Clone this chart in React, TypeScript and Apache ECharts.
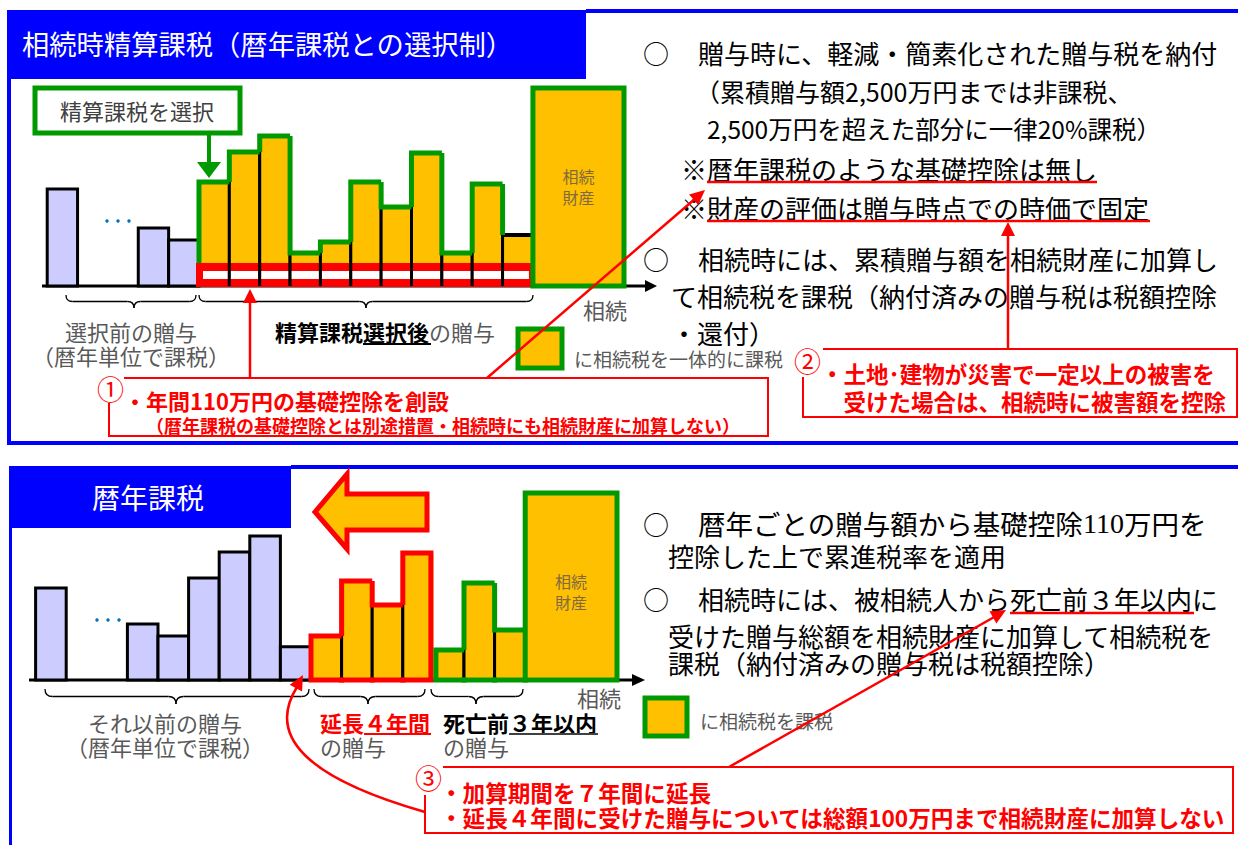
import React, { useEffect, useRef } from 'react';
import * as echarts from 'echarts';

const FONT = '"Noto Sans CJK JP", "Noto Sans", sans-serif';
const SERIF = '"Liberation Serif", "DejaVu Serif", serif';
const ORANGE = '#FFC000';
const LAVENDER = '#CCCCFF';
const GREEN = '#009900';
const RED = '#FF0000';
const BLUE = '#0000FF';
const GRAY = '#595959';

// ---------- top panel (相続時精算課税) ----------
const topCategories = ['B1', 'gap1', 'gap2', 'B2', 'B3', 'A1', 'A2', 'A3', 'A4', 'A5', 'A6', 'A7', 'A8', 'A9', 'A10', 'A11', 'E1', 'E2', 'E3'];
const topBeforeCats = ['B1', 'B2', 'B3'];
const topBeforeValues = [48.5, 29, 23];
const topAfterCats = ['A1', 'A2', 'A3', 'A4', 'A5', 'A6', 'A7', 'A8', 'A9', 'A10', 'A11'];
const topAfterValues = [52, 67, 75, 16.5, 22, 52, 39.5, 66.5, 16.5, 51, 25.5];
const topEstateCats = ['E1', 'E3'];
const topEstateValue = 99;

// ---------- bottom panel (暦年課税) ----------
const bottomCategories = ['C1', 'gap1', 'gap2', 'C2', 'C3', 'C4', 'C5', 'C6', 'C7', 'X1', 'X2', 'X3', 'X4', 'D1', 'D2', 'D3', 'E1', 'E2', 'E3'];
const bottomBeforeCats = ['C1', 'C2', 'C3', 'C4', 'C5', 'C6', 'C7'];
const bottomBeforeValues = [46, 28, 22, 51, 64, 72, 16.6];
const bottomExtCats = ['X1', 'X2', 'X3', 'X4'];
const bottomExtValues = [22, 49.5, 37.5, 63.5];
const bottomLast3Cats = ['D1', 'D2', 'D3'];
const bottomLast3Values = [15, 48.5, 25];
const bottomEstateCats = ['E1', 'E3'];
const bottomEstateValue = 93.5;

const toData = (cats: string[], all: string[], values: number[]) =>
  cats.map((c, i) => [all.indexOf(c), values[i]]);

function plainBars(fill: string) {
  return (params: any, api: any) => {
    const x = api.value(0), v = api.value(1);
    const top = api.coord([x, v]);
    const base = api.coord([x, 0]);
    const w = api.size([1, 0])[0];
    return {
      type: 'rect',
      shape: { x: top[0] - w / 2, y: top[1], width: w, height: base[1] - top[1] },
      style: { fill, stroke: '#000', lineWidth: 3 },
    };
  };
}

function groupFill(values: number[], opts: { strip?: boolean; blackLastTop?: boolean; blackLastRight?: boolean }) {
  return (params: any, api: any) => {
    const i = params.dataIndex;
    const n = values.length;
    const x = api.value(0), v = api.value(1);
    const top = api.coord([x, v]);
    const base = api.coord([x, 0]);
    const w = api.size([1, 0])[0];
    const x0 = top[0] - w / 2, x1 = top[0] + w / 2;
    const ch: any[] = [
      { type: 'rect', shape: { x: x0, y: top[1], width: w, height: base[1] - top[1] }, style: { fill: ORANGE } },
    ];
    if (opts.strip) {
      const p0 = i === 0 ? 3 : 0, p1 = i === n - 1 ? 3 : 0;
      ch.push({ type: 'rect', shape: { x: x0 - p0, y: base[1] - 23, width: w + p0 + p1, height: 24 }, style: { fill: RED } });
      const q0 = i === 0 ? 4 : 0, q1 = i === n - 1 ? 4 : 0;
      ch.push({ type: 'rect', shape: { x: x0 + q0, y: base[1] - 15, width: w - q0 - q1, height: 8 }, style: { fill: '#fff' } });
    }
    if (i > 0) ch.push({ type: 'line', shape: { x1: x0, y1: base[1], x2: x0, y2: top[1] }, style: { stroke: '#000', lineWidth: 3 } });
    if (i < n - 1 || opts.blackLastRight) ch.push({ type: 'line', shape: { x1: x1, y1: base[1], x2: x1, y2: top[1] }, style: { stroke: '#000', lineWidth: 3 } });
    if (opts.blackLastTop && i === n - 1) ch.push({ type: 'line', shape: { x1: x0, y1: top[1], x2: x1, y2: top[1] }, style: { stroke: '#000', lineWidth: 4 } });
    return { type: 'group', children: ch };
  };
}

function groupOutline(values: number[], color: string, opts: { closeBottom?: boolean; closeRight?: boolean; skipLastTop?: boolean; leftLift?: number; leftInset?: number; rightInset?: number }) {
  return (params: any, api: any) => {
    const i = params.dataIndex;
    const n = values.length;
    const x = api.value(0), v = api.value(1);
    const top = api.coord([x, v]);
    const base = api.coord([x, 0]);
    const w = api.size([1, 0])[0];
    let x0 = top[0] - w / 2, x1 = top[0] + w / 2;
    if (i === 0) x0 += opts.leftInset || 0;
    if (i === n - 1 && opts.closeRight) x1 -= opts.rightInset || 0;
    const startY = i === 0 ? base[1] - (opts.leftLift || 0) : api.coord([x - 1, values[i - 1]])[1];
    const pts: number[][] = [[x0, startY], [x0, top[1]]];
    if (!(opts.skipLastTop && i === n - 1)) pts.push([x1, top[1]]);
    if (opts.closeRight && i === n - 1) pts.push([x1, base[1]]);
    const ch: any[] = [
      { type: 'polyline', shape: { points: pts }, style: { stroke: color, lineWidth: 5, fill: null, lineJoin: 'miter' } },
    ];
    if (opts.closeBottom) {
      ch.push({ type: 'line', shape: { x1: x0, y1: base[1], x2: x1, y2: base[1] }, style: { stroke: color, lineWidth: 5, lineCap: 'square' } });
    }
    return { type: 'group', children: ch };
  };
}

function estateBar(endIndex: number) {
  return (params: any, api: any) => {
    const x = api.value(0), v = api.value(1);
    const w = api.size([1, 0])[0];
    const a = api.coord([x, v]);
    const b = api.coord([endIndex, 0]);
    const x0 = a[0] - w / 2, x1 = b[0] + w / 2;
    return {
      type: 'group',
      children: [
        { type: 'rect', shape: { x: x0, y: a[1], width: x1 - x0, height: b[1] - a[1] }, style: { fill: ORANGE, stroke: GREEN, lineWidth: 5 } },
        {
          type: 'text',
          x: (x0 + x1) / 2,
          y: a[1] + 98,
          style: { text: '相続\n財産', align: 'center', verticalAlign: 'middle', textAlign: 'center', textVerticalAlign: 'middle', fill: '#7f6a3f', fontSize: 16, lineHeight: 21, fontFamily: FONT },
        },
      ],
    };
  };
}

// ---------- graphic helpers ----------
function T(text: string, x: number, y: number, size: number, color: string, o: any = {}) {
  return {
    type: 'text',
    x,
    y,
    z: 50,
    style: {
      text,
      fontSize: size,
      fontFamily: o.family || FONT,
      fontWeight: o.bold ? 'bold' : 'normal',
      fill: color,
      align: o.align || 'left',
      textAlign: o.align || 'left',
      verticalAlign: 'middle',
      textVerticalAlign: 'middle',
      lineHeight: o.lineHeight,
      rich: o.rich,
    },
  };
}
function L(x1: number, y1: number, x2: number, y2: number, color: string, w: number, z = 60) {
  return { type: 'line', z, shape: { x1, y1, x2, y2 }, style: { stroke: color, lineWidth: w } };
}
function R(x: number, y: number, width: number, height: number, fill: string, stroke?: string, lw = 0, z = 1) {
  return { type: 'rect', z, shape: { x, y, width, height }, style: { fill, stroke: stroke || null, lineWidth: lw } };
}
function PL(points: number[][], color: string, w: number) {
  return { type: 'polyline', z: 60, shape: { points }, style: { stroke: color, lineWidth: w, fill: null } };
}
function head(tx: number, ty: number, fx: number, fy: number, len: number, half: number, color: string) {
  const dx = tx - fx, dy = ty - fy;
  const l = Math.hypot(dx, dy);
  const ux = dx / l, uy = dy / l;
  const bx = tx - ux * len, by = ty - uy * len;
  return {
    type: 'polygon',
    z: 61,
    shape: { points: [[tx, ty], [bx - uy * half, by + ux * half], [bx + uy * half, by - ux * half]] },
    style: { fill: color },
  };
}
function brace(x1: number, x2: number, y: number, h: number, m: number) {
  const r = h / 2;
  const st = { stroke: '#000', lineWidth: 1.3, fill: null };
  return [
    { type: 'bezierCurve', z: 40, shape: { x1: x1, y1: y, cpx1: x1, cpy1: y + r, x2: x1 + r, y2: y + r }, style: st },
    { type: 'line', z: 40, shape: { x1: x1 + r, y1: y + r, x2: m - r, y2: y + r }, style: st },
    { type: 'bezierCurve', z: 40, shape: { x1: m - r, y1: y + r, cpx1: m, cpy1: y + r, x2: m, y2: y + h }, style: st },
    { type: 'bezierCurve', z: 40, shape: { x1: m, y1: y + h, cpx1: m, cpy1: y + r, x2: m + r, y2: y + r }, style: st },
    { type: 'line', z: 40, shape: { x1: m + r, y1: y + r, x2: x2 - r, y2: y + r }, style: st },
    { type: 'bezierCurve', z: 40, shape: { x1: x2 - r, y1: y + r, cpx1: x2, cpy1: y + r, x2: x2, y2: y }, style: st },
  ];
}
function dots(xs: number[], y: number) {
  return xs.map((x) => ({ type: 'circle', z: 40, shape: { cx: x, cy: y, r: 1.7 }, style: { fill: '#0070C0' } }));
}

export default function App() {
  const ref = useRef<HTMLDivElement>(null);
  useEffect(() => {
    document.body.style.margin = '0';
    const chart = echarts.init(ref.current as HTMLDivElement, undefined, { renderer: 'svg' });

    const graphics: any[] = [
      // ----- frames -----
      R(8, 10, 578, 69, BLUE, undefined, 0, 5),
      R(586, 9, 652, 4, BLUE),
      R(7, 10, 4, 435, BLUE),
      R(7, 441, 1231, 4, BLUE),
      R(9, 466, 282, 62, BLUE, undefined, 0, 5),
      R(291, 465, 947, 4, BLUE),
      R(9, 466, 3, 379, BLUE),
      T('相続時精算課税（暦年課税との選択制）', 22, 43, 27.3, '#fff'),
      T('暦年課税', 92, 497, 28, '#fff'),

      // ----- top: 精算課税を選択 box & green arrow -----
      R(35, 88, 205, 45, '#fff', GREEN, 5, 10),
      T('精算課税を選択', 60, 110, 22, '#404040'),
      L(209, 134, 209, 166, GREEN, 4),
      { type: 'polygon', z: 61, shape: { points: [[197, 162], [221, 162], [209, 178]] }, style: { fill: GREEN } },

      // ----- axes (top & bottom) -----
      L(42, 286, 648, 286, '#000', 3, 1),
      { type: 'polygon', z: 1, shape: { points: [[645, 280], [657, 286], [645, 292]] }, style: { fill: '#000' } },
      L(29, 680, 634, 680, '#000', 3, 1),
      { type: 'polygon', z: 1, shape: { points: [[632, 674], [645, 680], [632, 686]] }, style: { fill: '#000' } },
      ...dots([107, 118, 129], 221),
      ...dots([97, 108, 119], 620),

      // ----- top labels -----
      T('相続', 583, 309, 22, GRAY),
      ...brace(66, 196, 295, 13, 134),
      ...brace(199, 533, 295, 13, 366),
      T('選択前の贈与\n（暦年単位で課税）', 131, 343, 22, GRAY, { align: 'center', lineHeight: 24 }),
      T('{b|精算課税選択後}{g|の贈与}', 275, 331, 22, '#000', {
        rich: {
          b: { fontWeight: 'bold', fill: '#000', color: '#000', fontSize: 22, fontFamily: FONT },
          g: { fill: GRAY, color: GRAY, fontSize: 22, fontFamily: FONT },
        },
      }),
      L(363, 344, 431, 344, '#000', 2),
      R(518, 329, 44, 39, ORANGE, GREEN, 5, 10),
      T('に相続税を一体的に課税', 574, 358, 19, GRAY),

      // ----- top right text -----
      T('○', 643, 52, 26, '#000'),
      T('贈与時に、軽減・簡素化された贈与税を納付', 698, 52, 26, '#000'),
      T('（累積贈与額2,500万円までは非課税、', 695, 91, 25, '#000'),
      T('2,500万円を超えた部分に一律20%課税）', 707, 128, 24.5, '#000'),
      T('※暦年課税のような基礎控除は無し', 681, 168, 26, '#000'),
      L(707, 182, 1097, 182, RED, 2.5),
      T('※財産の評価は贈与時点での時価で固定', 681, 207, 26, '#000'),
      L(707, 221, 1150, 221, RED, 2.5),
      T('○', 643, 258, 26, '#000'),
      T('相続時には、累積贈与額を相続財産に加算し', 698, 258, 26, '#000'),
      T('て相続税を課税（納付済みの贈与税は税額控除\n・還付）', 671, 313.5, 26, '#000', { lineHeight: 37 }),

      // ----- callout 1 -----
      PL([[124, 378], [768, 378], [768, 436], [109, 436], [109, 403]], RED, 2),
      T('①', 97, 388, 27, RED),
      T('・年間110万円の基礎控除を創設', 124, 400, 22, RED, { bold: true }),
      T('（暦年課税の基礎控除とは別途措置・相続時にも相続財産に加算しない）', 146, 425, 18, RED, { bold: true }),
      L(250, 378, 250, 300, RED, 2.5),
      head(250, 289, 250, 378, 14, 7, RED),
      L(487, 378, 696, 198, RED, 2.5),
      head(705, 190, 487, 378, 15, 7, RED),

      // ----- callout 2 -----
      PL([[823, 349], [1237, 349], [1237, 417], [803, 417], [803, 377]], RED, 2),
      T('②', 794, 360, 27, RED),
      T('・土地･建物が災害で一定以上の被害を\n　受けた場合は、相続時に被害額を控除', 821, 387, 22.5, RED, { bold: true, lineHeight: 28 }),
      L(1008, 349, 1008, 234, RED, 2.5),
      head(1008, 222, 1008, 349, 14, 7, RED),

      // ----- bottom: big left arrow -----
      {
        type: 'polygon',
        z: 30,
        shape: { points: [[315, 512], [347, 474], [347, 494], [427, 494], [427, 530], [347, 530], [347, 549]] },
        style: { fill: ORANGE, stroke: RED, lineWidth: 5, lineJoin: 'miter' },
      },

      // ----- bottom labels -----
      T('相続', 577, 697, 22, GRAY),
      ...brace(45, 309, 689, 15, 176),
      ...brace(314, 425, 689, 15, 368),
      ...brace(431, 523, 689, 15, 476),
      T('それ以前の贈与\n（暦年単位で課税）', 165, 734, 22, GRAY, { align: 'center', lineHeight: 24 }),
      T('延長４年間', 320, 722, 22, RED, { bold: true }),
      L(364, 734, 431, 734, RED, 2),
      T('の贈与', 320, 746, 22, GRAY),
      T('死亡前３年以内', 443, 722, 22, '#000', { bold: true }),
      L(509, 734, 598, 734, '#404040', 2),
      T('の贈与', 443, 746, 22, GRAY),
      R(645, 698, 42, 38, ORANGE, GREEN, 5, 10),
      T('に相続税を課税', 700, 720, 19, GRAY),

      // ----- bottom right text -----
      T('○', 643, 523, 26, '#000'),
      T('{a|暦年ごとの贈与額から基礎控除}{s|110}{a|万円を}', 698, 523, 26, '#000', {
        rich: {
          a: { fontSize: 27.5, fontFamily: FONT, fill: '#000', color: '#000' },
          s: { fontSize: 28, fontFamily: SERIF, fill: '#000', color: '#000' },
        },
      }),
      T('控除した上で累進税率を適用', 668, 555, 26, '#000'),
      T('○', 643, 598, 26, '#000'),
      T('相続時には、被相続人から死亡前３年以内に', 698, 598, 26, '#000'),
      L(1010, 613, 1194, 613, RED, 2.5),
      T('受けた贈与総額を相続財産に加算して相続税を\n課税（納付済みの贈与税は税額控除）', 668, 648.5, 26, '#000', { lineHeight: 27 }),

      // ----- callout 3 -----
      PL([[443, 767], [1233, 767], [1233, 833], [425, 833], [425, 795]], RED, 2),
      T('③', 415, 777, 27, RED),
      T('・加算期間を７年間に延長\n・延長４年間に受けた贈与については総額100万円まで相続財産に加算しない', 440, 804.5, 22.6, RED, { bold: true, lineHeight: 25 }),
      {
        type: 'bezierCurve',
        z: 60,
        shape: { x1: 425, y1: 812, cpx1: 250, cpy1: 762, x2: 297, y2: 687 },
        style: { stroke: RED, lineWidth: 2.5, fill: null },
      },
      head(303, 675, 283, 712, 15, 7, RED),
      L(729, 767, 996, 616, RED, 2.5),
      head(1006, 610, 729, 767, 15, 7, RED),
    ];

    const topEstateEnd = topCategories.indexOf(topEstateCats[1]);
    const bottomEstateEnd = bottomCategories.indexOf(bottomEstateCats[1]);

    chart.setOption({
      animation: false,
      grid: [
        { left: 47.2, top: 86, width: 576.8, height: 200 },
        { left: 35.6, top: 480, width: 581.4, height: 200 },
      ],
      xAxis: [
        { type: 'category', gridIndex: 0, data: topCategories, show: false },
        { type: 'category', gridIndex: 1, data: bottomCategories, show: false },
      ],
      yAxis: [
        { type: 'value', gridIndex: 0, min: 0, max: 100, show: false },
        { type: 'value', gridIndex: 1, min: 0, max: 100, show: false },
      ],
      series: [
        // top
        { type: 'custom', xAxisIndex: 0, yAxisIndex: 0, z: 2, encode: { x: 0, y: 1 }, data: toData(topBeforeCats, topCategories, topBeforeValues), renderItem: plainBars(LAVENDER) },
        { type: 'custom', xAxisIndex: 0, yAxisIndex: 0, z: 2, encode: { x: 0, y: 1 }, data: toData(topAfterCats, topCategories, topAfterValues), renderItem: groupFill(topAfterValues, { strip: true, blackLastTop: true }) },
        { type: 'custom', xAxisIndex: 0, yAxisIndex: 0, z: 3, encode: { x: 0, y: 1 }, data: toData(topAfterCats, topCategories, topAfterValues), renderItem: groupOutline(topAfterValues, GREEN, { skipLastTop: true, leftLift: 23 }) },
        { type: 'custom', xAxisIndex: 0, yAxisIndex: 0, z: 4, encode: { x: 0, y: 1 }, data: [[topCategories.indexOf(topEstateCats[0]), topEstateValue]], renderItem: estateBar(topEstateEnd) },
        // bottom
        { type: 'custom', xAxisIndex: 1, yAxisIndex: 1, z: 2, encode: { x: 0, y: 1 }, data: toData(bottomBeforeCats, bottomCategories, bottomBeforeValues), renderItem: plainBars(LAVENDER) },
        { type: 'custom', xAxisIndex: 1, yAxisIndex: 1, z: 2, encode: { x: 0, y: 1 }, data: toData(bottomExtCats, bottomCategories, bottomExtValues), renderItem: groupFill(bottomExtValues, {}) },
        { type: 'custom', xAxisIndex: 1, yAxisIndex: 1, z: 3, encode: { x: 0, y: 1 }, data: toData(bottomExtCats, bottomCategories, bottomExtValues), renderItem: groupOutline(bottomExtValues, RED, { closeBottom: true, closeRight: true, rightInset: 2.5 }) },
        { type: 'custom', xAxisIndex: 1, yAxisIndex: 1, z: 2, encode: { x: 0, y: 1 }, data: toData(bottomLast3Cats, bottomCategories, bottomLast3Values), renderItem: groupFill(bottomLast3Values, { blackLastRight: true }) },
        { type: 'custom', xAxisIndex: 1, yAxisIndex: 1, z: 3, encode: { x: 0, y: 1 }, data: toData(bottomLast3Cats, bottomCategories, bottomLast3Values), renderItem: groupOutline(bottomLast3Values, GREEN, { closeBottom: true, leftInset: 2.5 }) },
        { type: 'custom', xAxisIndex: 1, yAxisIndex: 1, z: 4, encode: { x: 0, y: 1 }, data: [[bottomCategories.indexOf(bottomEstateCats[0]), bottomEstateValue]], renderItem: estateBar(bottomEstateEnd) },
      ],
      graphic: { elements: graphics },
    });
    return () => chart.dispose();
  }, []);
  return <div ref={ref} style={{ position: 'fixed', left: 0, top: 0, width: 1238, height: 845, background: '#fff' }} />;
}
